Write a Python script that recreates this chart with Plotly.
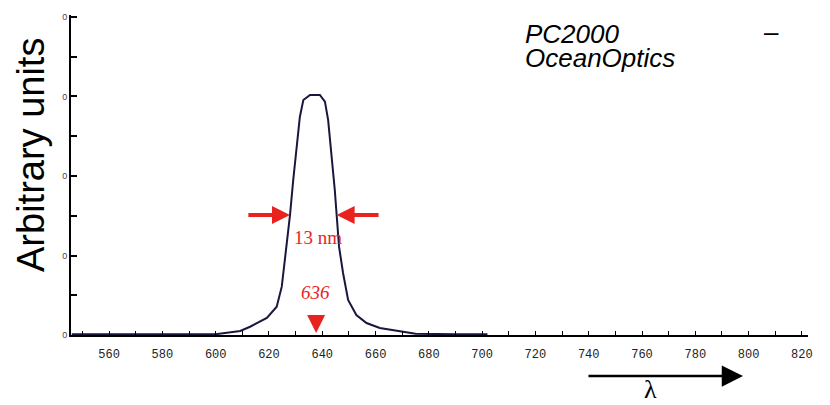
import plotly.graph_objects as go

# ---- data ----
wavelength_nm = [546, 560, 580, 600, 609.2, 612.9, 619.2, 622.9, 624.8, 626.0, 627.3, 627.9,
                 629.1, 630.6, 631.6, 632.9, 635.4, 639.1, 641.0, 642.2, 643.5, 644.7, 645.4,
                 646.3, 647.8, 649.7, 652.8, 656.6, 661.6, 667.8, 675, 690, 702]
intensity = [10, 10, 10, 10, 50, 104, 214, 356, 608, 944, 1321, 1510,
             1950, 2453, 2746, 2956, 3019, 3019, 2935, 2705, 2290, 1824, 1510,
             1111, 780, 440, 252, 151, 88, 50, 15, 10, 10]

x_tick_vals = [560, 580, 600, 620, 640, 660, 680, 700, 720, 740, 760, 780, 800, 820]
x_tick_text = ["560", "580", "600", "620", "640", "660", "680", "700", "720", "740", "760", "780", "800", "820"]
x_minor_vals = [550, 570, 590, 610, 630, 650, 670, 690, 710, 730, 750, 770, 790, 810]
y_tick_vals = [0, 1000, 2000, 3000, 4000]
y_tick_text = ["0", "0", "0", "0", "0"]
y_minor_vals = [500, 1500, 2500, 3500]

fwhm_left_nm = 627.9
fwhm_right_nm = 645.4
fwhm_level = 1510
fwhm_label = "13 nm"
peak_nm = 637.7
peak_label = "636"

RED = "#e8231f"
NAVY = "#17173f"

fig = go.Figure()
fig.add_trace(go.Scatter(x=wavelength_nm, y=intensity, mode="lines",
                         line=dict(color=NAVY, width=2), hoverinfo="skip", showlegend=False))

W, H = 830, 405
L, R, T, B = 71, 22, 15, 70
pw, ph = W - L - R, H - T - B

def px(xp):
    return (xp - L) / pw

def py(yp):
    return (H - B - yp) / ph

annotations = [
    # FWHM arrows
    dict(x=fwhm_left_nm, y=fwhm_level, ax=fwhm_left_nm - 16.2, ay=fwhm_level, xref="x", yref="y",
         axref="x", ayref="y", showarrow=True, arrowhead=2, arrowwidth=4, arrowsize=0.9,
         arrowcolor=RED, text=""),
    dict(x=fwhm_right_nm, y=fwhm_level, ax=fwhm_right_nm + 16.3, ay=fwhm_level, xref="x", yref="y",
         axref="x", ayref="y", showarrow=True, arrowhead=2, arrowwidth=4, arrowsize=0.9,
         arrowcolor=RED, text=""),
    dict(x=638.5, y=1232, xref="x", yref="y", text=fwhm_label, showarrow=False,
         xanchor="center", yanchor="middle",
         font=dict(family="Liberation Serif", size=19, color=RED)),
    dict(x=637.5, y=540, xref="x", yref="y", text="<i>" + peak_label + "</i>", showarrow=False,
         xanchor="center", yanchor="middle",
         font=dict(family="Liberation Serif", size=19, color=RED)),
    dict(x=peak_nm, y=25, ax=0, ay=-17, xref="x", yref="y", showarrow=True, arrowhead=2,
         arrowwidth=4, arrowsize=0.9, arrowcolor=RED, text=""),
    # y title
    dict(x=px(31), y=py(155), xref="paper", yref="paper", text="Arbitrary units", textangle=-90,
         xanchor="center", yanchor="middle",
         showarrow=False, font=dict(family="Liberation Sans", size=38, color="black")),
    # top right text
    dict(x=px(523), y=py(34), xref="paper", yref="paper", text="<i>PC2000</i>",
         xanchor="left", yanchor="middle",
         showarrow=False, font=dict(family="Liberation Sans", size=26, color="black")),
    dict(x=px(771), y=py(32), xref="paper", yref="paper", text="<i>–</i>",
         xanchor="center", yanchor="middle",
         showarrow=False, font=dict(family="Liberation Sans", size=26, color="black")),
    dict(x=px(523), y=py(58), xref="paper", yref="paper", text="<i>OceanOptics</i>",
         xanchor="left", yanchor="middle",
         showarrow=False, font=dict(family="Liberation Sans", size=26, color="black")),
    # lambda arrow
    dict(x=px(743), y=py(376), ax=-156, ay=0, xref="paper", yref="paper", showarrow=True,
         arrowhead=2, arrowwidth=2.5, arrowsize=1.7, arrowcolor="black", text=""),
    dict(x=px(650), y=py(389), xref="paper", yref="paper", text="λ", showarrow=False,
         xanchor="center", yanchor="middle",
         font=dict(family="Liberation Serif", size=26, color="black")),
]

fig.update_layout(
    width=W, height=H,
    margin=dict(l=L, r=R, t=T, b=B),
    paper_bgcolor="white", plot_bgcolor="white",
    annotations=annotations,
    showlegend=False,
)
fig.update_xaxes(range=[545.7, 822.3], showgrid=False, zeroline=False,
                 showline=True, linecolor="black", linewidth=1.5,
                 tickmode="array", tickvals=x_tick_vals, ticktext=x_tick_text,
                 ticks="inside", ticklen=4, tickwidth=1.2, tickcolor="black",
                 ticklabelstandoff=7,
                 tickfont=dict(family="Liberation Mono", size=12, color="#222"),
                 minor=dict(tickvals=x_minor_vals, ticks="inside", ticklen=4, tickwidth=1.2,
                            tickcolor="black", showgrid=False))
fig.update_yaxes(range=[0, 4025], showgrid=False, zeroline=False,
                 showline=True, linecolor="black", linewidth=2,
                 tickmode="array", tickvals=y_tick_vals, ticktext=y_tick_text,
                 ticks="inside", ticklen=6, tickwidth=1.5, tickcolor="black",
                 tickfont=dict(family="Liberation Sans", size=9, color="#444"),
                 minor=dict(tickvals=y_minor_vals, ticks="inside", ticklen=6, tickwidth=1.5,
                            tickcolor="black", showgrid=False))

fig.write_html("out.html", config={"displayModeBar": False},
               post_script="document.body.style.margin='0';document.body.style.overflow='hidden';")
